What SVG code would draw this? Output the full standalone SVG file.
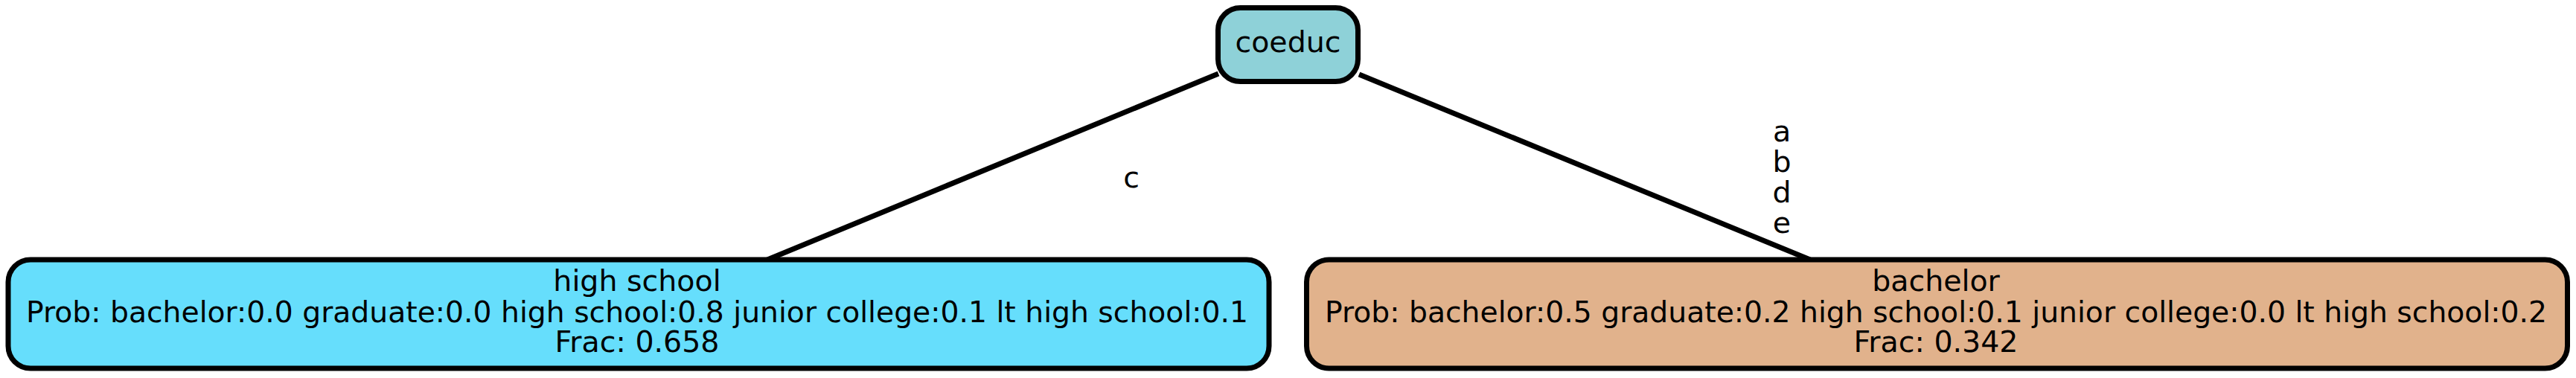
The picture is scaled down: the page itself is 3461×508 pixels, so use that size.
<svg xmlns="http://www.w3.org/2000/svg" width="3461" height="508" viewBox="0 0 3461 508">
<style>
.node rect{stroke:#000;stroke-width:7}
.t{font-family:"DejaVu Sans",sans-serif;font-size:39.5px;fill:#000;text-anchor:middle}
.edge{stroke:#000;stroke-width:7;fill:none}
</style>
<rect width="3461" height="508" fill="#fff"/>
<g id="connectors">
<line class="edge" x1="1637" y1="99" x2="1031" y2="349"/>
<line class="edge" x1="1826" y1="100" x2="2432" y2="349"/>
<text class="t" x="1520" y="252">c</text>
<text class="t" x="2394" y="189.5">a</text>
<text class="t" x="2394" y="230.5">b</text>
<text class="t" x="2394" y="271.5">d</text>
<text class="t" x="2394" y="312.5">e</text>
</g>
<g id="coeduc" class="node">
<rect x="1636.5" y="10.5" width="188" height="99" rx="30" fill="#8ed1d8"/>
<text class="t" x="1730.5" y="70">coeduc</text>
</g>
<g id="highschool" class="node">
<rect x="11" y="349" width="1694" height="146" rx="30" fill="#66defc"/>
<text class="t" x="856" y="391">high school</text>
<text class="t" x="856" y="433" textLength="1642" lengthAdjust="spacingAndGlyphs">Prob: bachelor:0.0 graduate:0.0 high school:0.8 junior college:0.1 lt high school:0.1</text>
<text class="t" x="856" y="473">Frac: 0.658</text>
</g>
<g id="bachelor" class="node">
<rect x="1755.5" y="349" width="1694" height="146" rx="30" fill="#e1b28c"/>
<text class="t" x="2601" y="391">bachelor</text>
<text class="t" x="2601" y="433" textLength="1642" lengthAdjust="spacingAndGlyphs">Prob: bachelor:0.5 graduate:0.2 high school:0.1 junior college:0.0 lt high school:0.2</text>
<text class="t" x="2601" y="473">Frac: 0.342</text>
</g>
</svg>
